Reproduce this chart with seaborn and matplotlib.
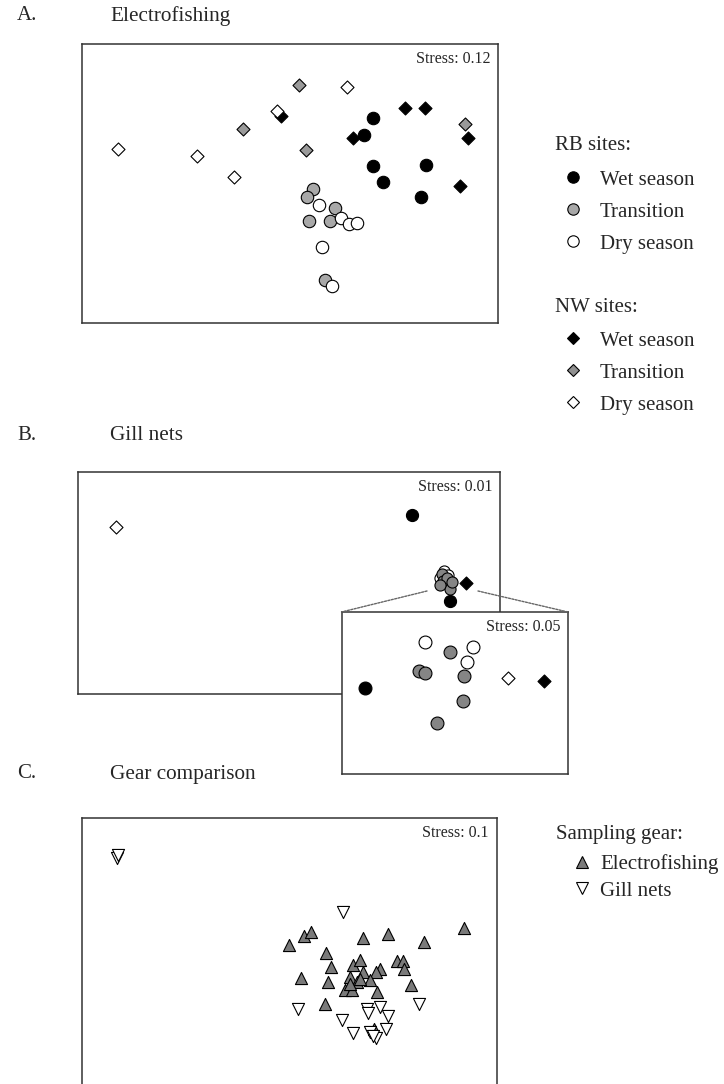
import numpy as np
import pandas as pd
import matplotlib
matplotlib.use('Agg')
import matplotlib.pyplot as plt
from matplotlib.lines import Line2D
from matplotlib.patches import ConnectionPatch
import seaborn as sns

sns.set_style('white')
plt.rcParams['font.family'] = ['Liberation Serif', 'DejaVu Serif']
plt.rcParams['font.size'] = 15

# ---- A. Electrofishing (NMDS scores) ----
a_rb_wet_x = [0.83, 0.74, 0.83, 0.93, 1.36, 1.31]
a_rb_wet_y = [0.66, 0.49, 0.175, 0.02, 0.19, -0.13]
a_rb_tr_x = [0.23, 0.17, 0.45, 0.19, 0.40, 0.35]
a_rb_tr_y = [-0.055, -0.135, -0.24, -0.375, -0.37, -0.965]
a_rb_dry_x = [0.29, 0.51, 0.59, 0.67, 0.32, 0.42]
a_rb_dry_y = [-0.21, -0.34, -0.405, -0.39, -0.63, -1.02]
a_nw_wet_x = [-0.09, 0.63, 1.15, 1.35, 1.78, 1.70]
a_nw_wet_y = [0.68, 0.46, 0.76, 0.76, 0.46, -0.02]
a_nw_tr_x = [0.09, -0.47, 0.16, 1.75]
a_nw_tr_y = [0.99, 0.55, 0.34, 0.60]
a_nw_dry_x = [-1.72, -0.93, -0.56, -0.13, 0.57]
a_nw_dry_y = [0.35, 0.28, 0.07, 0.725, 0.97]

# ---- B. Gill nets ----
b_rb_wet_x = [1.23, 1.61]
b_rb_wet_y = [0.68, -0.18]
b_rb_tr_x = [1.53, 1.54, 1.61, 1.58, 1.51, 1.63]
b_rb_tr_y = [0.09, 0.02, -0.06, 0.05, -0.02, 0.01]
b_rb_dry_x = [1.55, 1.51, 1.59]
b_rb_dry_y = [0.12, 0.05, 0.08]
b_nw_wet_x = [1.77]
b_nw_wet_y = [0.0]
b_nw_dry_x = [-1.73]
b_nw_dry_y = [0.56]

# inset: ordination without the outliers
i_rb_wet_x = [-0.90]
i_rb_wet_y = [0.05]
i_rb_tr_x = [-0.05, -0.36, -0.30, 0.09, 0.08, -0.18]
i_rb_tr_y = [0.41, 0.22, 0.20, 0.17, -0.08, -0.30]
i_rb_dry_x = [-0.30, 0.18, 0.12]
i_rb_dry_y = [0.51, 0.46, 0.31]
i_nw_wet_x = [0.89]
i_nw_wet_y = [0.12]
i_nw_dry_x = [0.53]
i_nw_dry_y = [0.15]

# ---- C. Gear comparison ----
c_ef_x = [-0.01, 0.14, 0.21, 0.73, 0.98, 1.345, 1.74, 0.365, 0.415, 0.11,
          0.38, 0.355, 0.63, 0.705, 0.73, 0.605, 0.905, 0.865, 0.80, 0.67,
          0.555, 0.62, 0.87, 1.07, 1.13, 1.145, 1.21, 0.605, 0.705, 0.84]
c_ef_y = [0.115, 0.205, 0.25, 0.19, 0.225, 0.15, 0.29, 0.04, -0.10, -0.21,
          -0.25, -0.47, -0.085, -0.035, -0.15, -0.20, -0.12, -0.15, -0.235, -0.25,
          -0.33, -0.33, -0.35, -0.045, -0.045, -0.125, -0.285, -0.275, -0.22, -0.72]
c_gn_x = [-1.725, -1.715, 0.535, 0.085, 1.295, 0.525, 0.775, 0.905, 0.985,
          0.635, 0.805, 0.965, 0.865, 0.785, 0.835]
c_gn_y = [0.985, 1.015, 0.445, -0.525, -0.475, -0.635, -0.525, -0.505, -0.595,
          -0.765, -0.755, -0.725, -0.815, -0.565, -0.795]

season_labels = ['Wet season', 'Transition', 'Dry season']
gear_labels = ['Electrofishing', 'Gill nets']
stress = {'A': '0.12', 'B': '0.01', 'inset': '0.05', 'C': '0.1'}

W, H = 724, 1084


def rect(l, t, r, b):
    return [l / W, 1 - b / H, (r - l) / W, (b - t) / H]


def frame(ax, xlim, ylim, s):
    ax.set(xlim=xlim, ylim=ylim, xticks=[], yticks=[], xlabel='', ylabel='')
    for sp in ax.spines.values():
        sp.set_color('#333333')
        sp.set_linewidth(1.1)
    ax.annotate(f'Stress: {s}', xy=(1, 1), xycoords='axes fraction',
                xytext=(-8, -15), textcoords='offset pixels',
                ha='right', va='center', fontsize=11.5)


def dots(ax, xs, ys, marker, color, size):
    df = pd.DataFrame({'nmds1': xs, 'nmds2': ys})
    sns.scatterplot(data=df, x='nmds1', y='nmds2', marker=marker, color=color,
                    s=size, edgecolor='black', linewidth=0.8, ax=ax, legend=False)


fig = plt.figure(figsize=(7.24, 10.84), dpi=100)

# panel A
axA = fig.add_axes(rect(82, 44, 498, 323))
dots(axA, a_nw_wet_x, a_nw_wet_y, 'D', 'black', 44)
dots(axA, a_nw_tr_x, a_nw_tr_y, 'D', '#9a9a9a', 44)
dots(axA, a_nw_dry_x, a_nw_dry_y, 'D', 'white', 44)
dots(axA, a_rb_wet_x, a_rb_wet_y, 'o', 'black', 80)
dots(axA, a_rb_tr_x, a_rb_tr_y, 'o', '#a8a8a8', 80)
dots(axA, a_rb_dry_x, a_rb_dry_y, 'o', 'white', 80)
frame(axA, (-2.08, 2.08), (-1.395, 1.395), stress['A'])

# panel B
axB = fig.add_axes(rect(78, 472, 500, 694))
dots(axB, b_nw_dry_x, b_nw_dry_y, 'D', 'white', 44)
dots(axB, b_nw_wet_x, b_nw_wet_y, 'D', 'black', 44)
dots(axB, b_rb_wet_x, b_rb_wet_y, 'o', 'black', 76)
dots(axB, b_rb_dry_x, b_rb_dry_y, 'o', 'white', 64)
dots(axB, b_rb_tr_x, b_rb_tr_y, 'o', '#858585', 64)
frame(axB, (-2.11, 2.11), (-1.11, 1.11), stress['B'])

axI = fig.add_axes(rect(341.5, 612, 568, 774))
axI.set_facecolor('white')
dots(axI, i_rb_wet_x, i_rb_wet_y, 'o', 'black', 86)
dots(axI, i_rb_dry_x, i_rb_dry_y, 'o', 'white', 86)
dots(axI, i_rb_tr_x, i_rb_tr_y, 'o', '#858585', 86)
dots(axI, i_nw_dry_x, i_nw_dry_y, 'D', 'white', 44)
dots(axI, i_nw_wet_x, i_nw_wet_y, 'D', 'black', 44)
frame(axI, (-1.1325, 1.1325), (-0.81, 0.81), stress['inset'])

for xb, corner in [(1.38, (0, 1)), (1.89, (1, 1))]:
    con = ConnectionPatch(xyA=(xb, -0.08), coordsA=axB.transData,
                          xyB=corner, coordsB=axI.transAxes,
                          color='#666666', linestyle=(0, (1.5, 1)), linewidth=1.0)
    fig.add_artist(con)

# panel C
axC = fig.add_axes(rect(82, 818, 497, 1095))
dots(axC, c_ef_x, c_ef_y, '^', '#7a7a7a', 76)
dots(axC, c_gn_x, c_gn_y, 'v', 'white', 76)
frame(axC, (-2.075, 2.075), (-1.385, 1.385), stress['C'])

# panel titles
for lab, name, y in [('A.', 'Electrofishing', 16), ('B.', 'Gill nets', 436),
                     ('C.', 'Gear comparison', 774)]:
    fig.text(17 / W, 1 - y / H, lab, ha='left', va='center', fontsize=15)
    fig.text(110 / W, 1 - y / H, name, ha='left', va='center', fontsize=15.3)

# legends
fig.text(555 / W, 1 - 145 / H, 'RB sites:', ha='left', va='center', fontsize=15)
fig.text(555 / W, 1 - 307 / H, 'NW sites:', ha='left', va='center', fontsize=15)
fig.text(556 / W, 1 - 835 / H, 'Sampling gear:', ha='left', va='center', fontsize=15)


def handle(marker, fc, ms):
    return Line2D([], [], ls='none', marker=marker, markerfacecolor=fc,
                  markeredgecolor='black', markeredgewidth=0.8, markersize=ms)


rb_handles = [handle('o', 'black', 8.2), handle('o', '#a8a8a8', 8.2), handle('o', 'white', 8.2)]
nw_handles = [handle('D', 'black', 6.6), handle('D', '#909090', 6.6), handle('D', 'white', 6.6)]
gear_handles = [handle('^', '#7a7a7a', 9), handle('v', 'white', 9)]

leg_kw = dict(frameon=False, loc='upper left', bbox_transform=fig.transFigure,
              borderpad=0, borderaxespad=0, handlelength=1.0, fontsize=15)
fig.legend(rb_handles, season_labels, bbox_to_anchor=(562.6 / W, 1 - 170 / H),
           handletextpad=0.8, labelspacing=0.6, **leg_kw)
fig.legend(nw_handles, season_labels, bbox_to_anchor=(562.6 / W, 1 - 331 / H),
           handletextpad=0.8, labelspacing=0.6, **leg_kw)
fig.legend(gear_handles, gear_labels, bbox_to_anchor=(571.6 / W, 1 - 854 / H),
           handletextpad=0.37, labelspacing=0.34, **leg_kw)

fig.savefig('out.png', dpi=100)
